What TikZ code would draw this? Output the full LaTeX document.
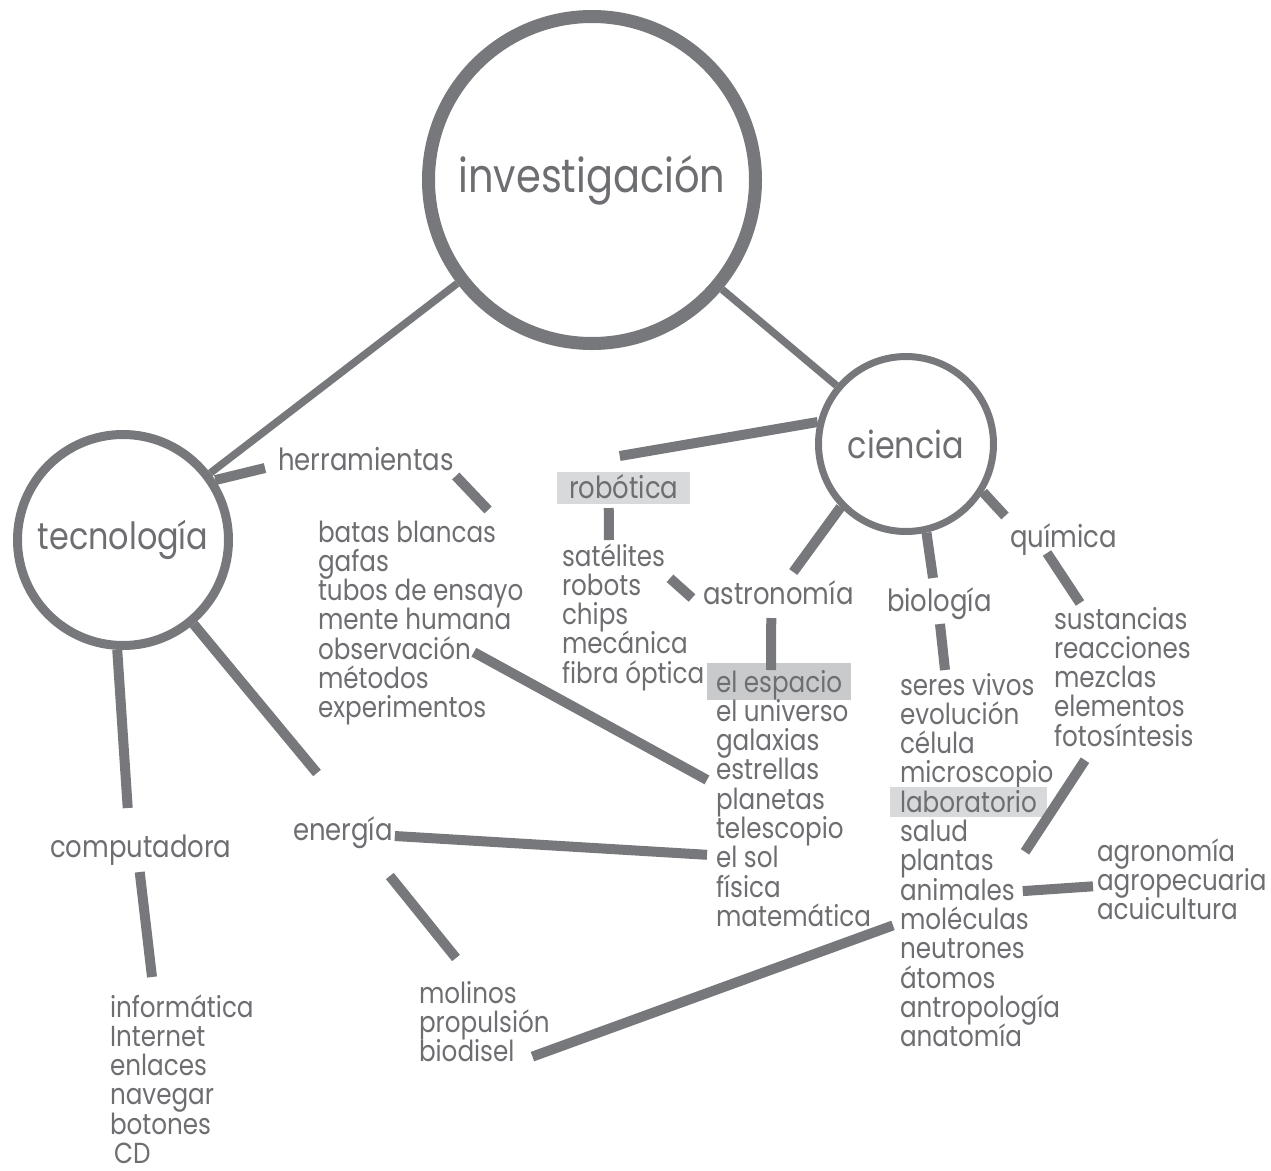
\documentclass[tikz,border=0pt]{standalone}
\usepackage{fontspec}
\newfontfamily\fut[FakeStretch=0.85]{Poppins}
\usetikzlibrary{calc}
\definecolor{lc}{HTML}{77787B}
\definecolor{tc}{HTML}{6D6E71}
\definecolor{hlA}{HTML}{D8D9DA}
\definecolor{hlB}{HTML}{C9CACC}
\newcommand\fsA{\fut\fontsize{29bp}{29bp}\selectfont}
\newcommand\fsB{\fut\fontsize{30.5bp}{30bp}\selectfont}
\newcommand\fsC{\fut\fontsize{37.5bp}{38bp}\selectfont}
\newcommand\fsD{\fut\fontsize{47bp}{47bp}\selectfont}
\begin{document}
\begin{tikzpicture}[x=1bp,y=-1bp,
  ring/.style={circle,draw=lc,text=tc,inner sep=0pt},
  item/.style={inner sep=0pt,outer sep=0pt,text=tc,anchor=base west,font=\fsA},
  topic/.style={inner sep=0pt,outer sep=0pt,text=tc,anchor=base west,font=\fsB},
  hl/.style={inner ysep=0pt,outer sep=0pt,text=tc,anchor=base west},
  conn/.style={draw=lc,line width=10bp},
  mainconn/.style={draw=lc,line width=7.5bp}]
\useasboundingbox (0,0) rectangle (1271,1171);

% circles
\node[ring,line width=13bp,minimum size=327bp,font=\fsD] (inv) at (592,180) {investigación};
\node[ring,line width=9bp,minimum size=211bp,font=\fsC] (tec) at (123,540) {tecnología};
\node[ring,line width=7bp,minimum size=175bp,font=\fsC] (cie) at (906,444) {ciencia};

% topic labels
\node[topic] (herr) at (278,470) {herramientas};
\node[topic] (comp) at (50,857) {computadora};
\node[topic] (ener) at (293,840) {energía};
\node[topic] (astr) at (703,604) {astronomía};
\node[topic] (biol) at (887,611) {biología};
\node[topic] (quim) at (1010,547) {química};
\node[hl,font=\fsB,fill=hlA,inner xsep=12bp,text height=26bp,text depth=6bp] (rob) at (557,498) {robótica};

% lists
\foreach \w [count=\i] in {batas blancas,gafas,tubos de ensayo,mente humana,observación,métodos,experimentos}
  \node[item] (bat\i) at (318,{542+29.3*(\i-1)}) {\w};
\foreach \w [count=\i] in {informática,Internet,enlaces,navegar,botones}
  \node[item] (info\i) at (110,{1017+29.3*(\i-1)}) {\w};
\node[item] (info6) at (114,1163) {CD};
\foreach \w [count=\i] in {molinos,propulsión,biodisel}
  \node[item] (mol\i) at (419,{1003+29.3*(\i-1)}) {\w};
\foreach \w [count=\i] in {satélites,robots,chips,mecánica,fibra óptica}
  \node[item] (sat\i) at (562,{566+29.3*(\i-1)}) {\w};
\node[hl,font=\fsA,fill=hlB,inner xsep=9bp,text height=29bp,text depth=8bp] (esp1) at (707,692) {el espacio};
\foreach \i/\w in {2/el universo,3/galaxias,4/estrellas,5/planetas,6/telescopio,7/el sol,8/física,9/matemática}
  \node[item] (esp\i) at (716,{692+29.3*(\i-1)}) {\w};
\foreach \i/\w in {1/seres vivos,2/evolución,3/célula,4/microscopio,6/salud,7/plantas,8/animales,9/moléculas,10/neutrones,11/átomos,12/antropología,13/anatomía}
  \node[item] (ser\i) at (900,{695+29.3*(\i-1)}) {\w};
\node[hl,font=\fsA,fill=hlA,inner xsep=10bp,text height=25bp,text depth=5bp] (ser5) at (890,{695+29.3*4}) {laboratorio};
\foreach \w [count=\i] in {sustancias,reacciones,mezclas,elementos,fotosíntesis}
  \node[item] (sus\i) at (1054,{629+29.3*(\i-1)}) {\w};
\foreach \w [count=\i] in {agronomía,agropecuaria,acuicultura}
  \node[item] (agr\i) at (1097,{861+29.3*(\i-1)}) {\w};

% connectors
\draw[mainconn] (inv) -- (tec);
\draw[mainconn] (inv) -- (cie);
\draw[conn] (tec.33) -- ($(herr.base west)+(-13,-2)$);
\draw[conn] ($(herr.base east)+(2,6)$) -- ($(bat1.base east)+(-8,-32)$);
\draw[conn] ($(bat5.base east)+(3,-7)$) -- ($(esp4.base west)+(-9,0)$);
\draw[conn] (tec.-93) -- ($(comp.base)+(-13,-49)$);
\draw[conn] ($(comp.base)+(-1,15)$) -- ($(info1.base west)+(42,-40)$);
\draw[conn] (tec.-50) -- ($(ener.base west)+(24,-67)$);
\draw[conn] ($(ener.base east)+(2,-4)$) -- ($(esp7.base west)+(-9,-13)$);
\draw[conn] ($(ener.base east)+(-3,36)$) -- ($(mol1.base west)+(37,-45)$);
\draw[conn] ($(mol3.base east)+(18,-5)$) -- ($(ser9.base west)+(-7,-4)$);
\draw[conn] (cie.166) -- ($(rob.base)+(-4,-42)$);
\draw[conn] ($(rob.south)+(-15,4)$) -- ($(sat1.base west)+(47,-26)$);
\draw[conn] ($(sat2.base west)+(108,-17)$) -- ($(astr.base west)+(-11,-6)$);
\draw[conn] (cie.224) -- ($(astr.base)+(15,-32)$);
\draw[conn] ($(astr.base)+(-7,14)$) -- ($(esp1.base west)+(64,-22)$);
\draw[conn] (cie.-77) -- ($(biol.base west)+(46,-33)$);
\draw[conn] ($(biol.base west)+(53,13)$) -- ($(ser1.base west)+(45,-25)$);
\draw[conn] (cie.-32) -- ($(quim.base west)+(-5,-31)$);
\draw[conn] ($(quim.base west)+(37,6)$) -- ($(sus1.base west)+(26,-26)$);
\draw[conn] ($(sus5.base west)+(31,14)$) -- ($(ser7.base west)+(125,-19)$);
\draw[conn] ($(ser8.base east)+(8,-9)$) -- ($(agr2.base west)+(-4,-4)$);
\end{tikzpicture}
\end{document}
